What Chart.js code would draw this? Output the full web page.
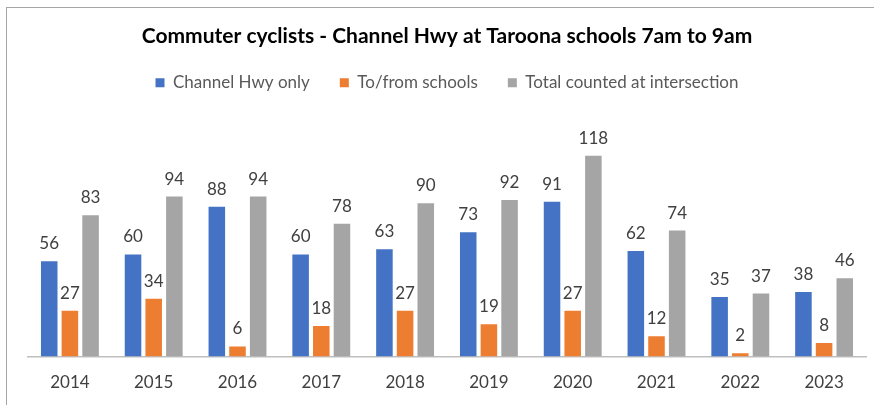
<!DOCTYPE html>
<html>
<head>
<meta charset="utf-8">
<script src="https://cdn.jsdelivr.net/npm/chart.js@4.4.1/dist/chart.umd.min.js"></script>
<style>
  html, body { margin: 0; padding: 0; background: #fff; }
  #frame { position: absolute; left: 6px; top: 7px; width: 900px; height: 500px; border: 1px solid #a6a6a6; }
  #wrap { position: absolute; left: 0; top: 0; width: 874px; height: 405px; }
</style>
</head>
<body>
<div id="frame"></div>
<div id="wrap"><canvas id="bars"></canvas></div>
<script>
// data
const years = ['2014', '2015', '2016', '2017', '2018', '2019', '2020', '2021', '2022', '2023'];
const channelHwy = [56, 60, 88, 60, 63, 73, 91, 62, 35, 38];
const schools = [27, 34, 6, 18, 27, 19, 27, 12, 2, 8];
const total = [83, 94, 94, 78, 90, 92, 118, 74, 37, 46];

const fontName = 'Lato, "Noto Sans", sans-serif';

// value labels above each bar
const barLabels = {
  id: 'barLabels',
  afterDatasetsDraw(chart) {
    const ctx = chart.ctx;
    ctx.save();
    ctx.font = '17px ' + fontName;
    ctx.fillStyle = '#404040';
    ctx.textAlign = 'center';
    ctx.textBaseline = 'bottom';
    chart.data.datasets.forEach((ds, i) => {
      chart.getDatasetMeta(i).data.forEach((bar, j) => {
        ctx.fillText(ds.data[j], bar.x, bar.y - 9);
      });
    });
    ctx.restore();
  }
};

let barChart = new Chart(document.querySelector('#bars'), {
  type: 'bar',
  data: {
    labels: years,
    datasets: [
      { label: 'Channel Hwy only', data: channelHwy, backgroundColor: '#4472C4' },
      { label: 'To/from schools', data: schools, backgroundColor: '#ED7D31' },
      { label: 'Total counted at intersection', data: total, backgroundColor: '#A5A5A5' }
    ]
  },
  options: {
    responsive: true,
    maintainAspectRatio: false,
    animation: false,
    categoryPercentage: 0.74,
    barPercentage: 0.8,
    layout: { padding: { left: 28, right: 8, top: 24, bottom: -4 } },
    plugins: {
      title: {
        display: true,
        text: 'Commuter cyclists - Channel Hwy at Taroona schools 7am to 9am',
        color: '#000',
        font: { family: fontName, size: 21, weight: 'bold' },
        padding: { top: 0, bottom: -5 }
      },
      legend: {
        position: 'top',
        labels: {
          boxWidth: 9,
          boxHeight: 9,
          padding: 30,
          color: '#595959',
          font: { family: fontName, size: 17 }
        }
      },
      tooltip: { enabled: false }
    },
    scales: {
      x: {
        grid: { display: false, drawTicks: false },
        border: { color: '#bfbfbf', width: 1.5 },
        ticks: { color: '#404040', padding: 16, font: { family: fontName, size: 17 } }
      },
      y: {
        display: false,
        min: 0,
        max: 150
      }
    }
  },
  plugins: [barLabels]
});
</script>
</body>
</html>
